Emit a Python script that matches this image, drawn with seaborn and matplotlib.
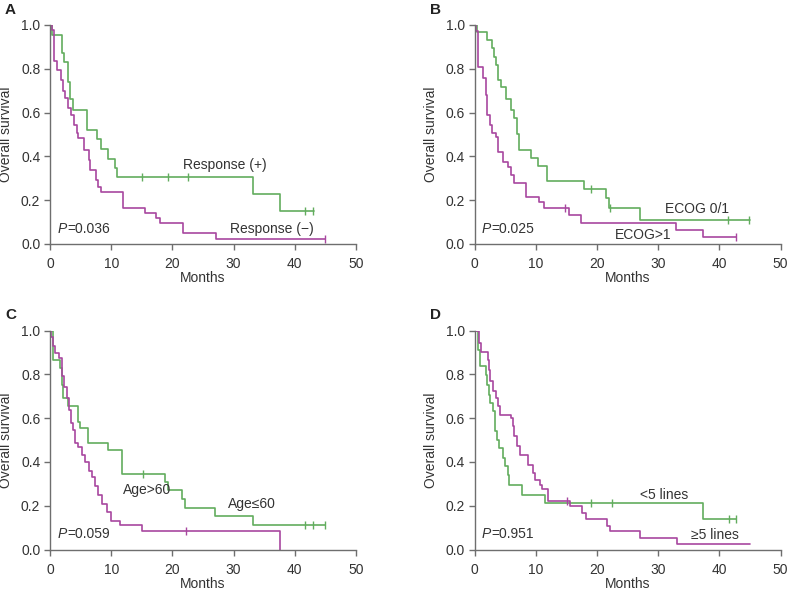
import numpy as np
import matplotlib
matplotlib.use("Agg")
import matplotlib.pyplot as plt
import seaborn as sns

# ---- data (months, survival) ----
# Panel A: response
a_pos_t = [0, 0.4, 1.9, 2.3, 3.0, 3.2, 3.8, 6.1, 7.6, 8.4, 9.5, 10.6, 10.9, 33.2, 37.5, 43.2]
a_pos_s = [1.0, 0.955, 0.87, 0.83, 0.74, 0.66, 0.61, 0.52, 0.48, 0.435, 0.39, 0.348, 0.305, 0.228, 0.152, 0.152]
a_pos_cens = [15.0, 19.2, 22.5, 41.7, 42.9]
a_neg_t = [0, 0.3, 0.7, 1.2, 1.85, 2.2, 2.45, 2.9, 3.5, 3.9, 4.4, 4.6, 5.6, 6.3, 6.6, 7.5, 7.9,
           8.4, 12.0, 15.5, 17.4, 18.0, 21.7, 27.1, 45.0]
a_neg_s = [1.0, 0.977, 0.836, 0.795, 0.75, 0.70, 0.668, 0.62, 0.59, 0.545, 0.505, 0.483, 0.43,
           0.384, 0.338, 0.292, 0.259, 0.239, 0.166, 0.14, 0.117, 0.094, 0.049, 0.023, 0.023]
a_neg_cens = [45.0]

# Panel B: ECOG
b_low_t = [0, 0.4, 2.1, 2.8, 3.2, 3.5, 3.9, 4.4, 5.1, 5.9, 6.5, 7.0, 7.3, 9.2, 10.3, 11.8,
           17.9, 21.5, 21.9, 27.0, 45.0]
b_low_s = [1.0, 0.967, 0.93, 0.894, 0.855, 0.817, 0.749, 0.715, 0.66, 0.612, 0.574, 0.50,
           0.429, 0.391, 0.358, 0.288, 0.25, 0.209, 0.165, 0.11, 0.11]
b_low_cens = [19.0, 22.1, 41.4, 44.8]
b_high_t = [0, 0.3, 0.6, 1.4, 1.8, 2.0, 2.1, 2.6, 2.9, 3.5, 3.9, 4.6, 5.5, 5.9, 6.5, 8.4,
            10.6, 11.4, 15.5, 17.4, 33.0, 37.3, 42.8]
b_high_s = [1.0, 0.974, 0.81, 0.757, 0.68, 0.63, 0.589, 0.543, 0.505, 0.49, 0.421, 0.376,
            0.353, 0.315, 0.277, 0.216, 0.193, 0.163, 0.132, 0.097, 0.064, 0.031, 0.031]
b_high_cens = [14.8, 42.8]

# Panel C: age
c_young_t = [0, 0.55, 1.6, 1.9, 2.1, 3.0, 4.5, 4.9, 6.2, 9.4, 11.8, 18.8, 19.3, 21.5, 22.1,
             26.9, 33.1, 45.0]
c_young_s = [1.0, 0.865, 0.828, 0.752, 0.69, 0.656, 0.584, 0.553, 0.485, 0.454, 0.345, 0.31,
             0.271, 0.23, 0.188, 0.152, 0.111, 0.111]
c_young_cens = [15.2, 41.6, 42.9, 45.0]
c_old_t = [0, 0.15, 0.5, 0.8, 1.5, 1.9, 2.3, 2.7, 3.1, 3.4, 3.7, 4.1, 4.6, 5.3, 5.8, 6.3, 6.8,
           7.3, 7.8, 8.5, 9.3, 10.0, 11.5, 15.0, 37.5]
c_old_s = [1.0, 0.972, 0.927, 0.897, 0.874, 0.79, 0.744, 0.69, 0.637, 0.576, 0.546, 0.485,
           0.469, 0.43, 0.40, 0.36, 0.33, 0.29, 0.25, 0.21, 0.17, 0.13, 0.11, 0.084, 0.0]
c_old_cens = [22.3]

# Panel D: lines of prior therapy
d_few_t = [0, 0.6, 0.9, 1.8, 2.1, 2.3, 2.6, 3.0, 3.4, 3.6, 4.0, 4.6, 5.0, 5.4, 5.7, 7.7, 11.6,
           37.4, 42.8]
d_few_s = [1.0, 0.912, 0.836, 0.798, 0.752, 0.707, 0.669, 0.631, 0.54, 0.50, 0.464, 0.418,
           0.38, 0.342, 0.296, 0.251, 0.213, 0.14, 0.14]
d_few_cens = [19.1, 22.4, 41.6, 42.8]
d_many_t = [0, 0.7, 1.0, 2.2, 2.3, 2.6, 3.1, 3.5, 3.9, 4.2, 5.9, 6.3, 6.5, 7.0, 7.5, 8.7, 9.5,
            9.9, 10.7, 11.1, 12.0, 15.6, 17.5, 18.2, 21.6, 22.1, 27.1, 33.1, 45.0]
d_many_s = [1.0, 0.943, 0.904, 0.866, 0.82, 0.768, 0.722, 0.692, 0.653, 0.616, 0.60, 0.562,
            0.517, 0.471, 0.433, 0.388, 0.35, 0.319, 0.296, 0.277, 0.22, 0.198, 0.167, 0.14,
            0.109, 0.083, 0.053, 0.026, 0.026]
d_many_cens = [15.1]

GREEN = "#62ad5e"
MAGENTA = "#a8479f"
AXIS_GRAY = "#6e6e6e"
TEXT = "#333333"
FS = 10


def surv_at(t, s, when):
    """Step-function lookup of survival at given censoring times."""
    idx = np.searchsorted(t, when, side="right") - 1
    return np.asarray(s)[idx]


def km_panel(fig, rect, letter, curves, labels, pval):
    ax = fig.add_axes(rect)
    for t, s, cens, color in curves:
        sns.lineplot(x=t, y=s, ax=ax, color=color, lw=1.2, drawstyle="steps-post",
                     estimator=None, sort=False)
        ax.plot(cens, surv_at(t, s, cens), ls="none", marker="|", ms=6, mew=1.0,
                color=color)
    for x, y, txt in labels:
        ax.text(x, y, txt, fontsize=FS, color=TEXT, ha="left", va="center")
    ax.text(1.2, 0.07, "P", fontsize=FS, style="italic", color=TEXT, va="center")
    ax.text(2.8, 0.07, "=" + pval, fontsize=FS, color=TEXT, va="center")

    ax.set_xlim(0, 50)
    ax.set_ylim(0, 1.0)
    ax.set_xticks(range(0, 51, 10))
    ax.set_yticks(np.arange(0, 1.01, 0.2))
    ax.set_yticklabels([f"{v:.1f}" for v in np.arange(0, 1.01, 0.2)])
    ax.set_xlabel("Months", fontsize=FS, color=TEXT)
    ax.set_ylabel("Overall survival", fontsize=FS, color=TEXT)
    ax.xaxis.set_label_coords(0.5, -0.125)
    ax.yaxis.set_label_coords(-0.12, 0.5)
    ax.tick_params(length=4.5, width=1, color=AXIS_GRAY, labelsize=FS, labelcolor=TEXT)
    ax.tick_params(axis="x", pad=5)
    ax.tick_params(axis="y", pad=2.5)
    sns.despine(ax=ax)
    for side in ("left", "bottom"):
        ax.spines[side].set_color(AXIS_GRAY)
        ax.spines[side].set_linewidth(1.0)
    ax.patch.set_alpha(0)
    fig.text(rect[0] - 0.057, rect[1] + rect[3] + 0.014, letter, fontsize=11,
             fontweight="bold", color="#222222", va="bottom")
    return ax


def main():
    sns.set_style("ticks")
    plt.rcParams["font.family"] = ["Liberation Sans", "DejaVu Sans"]
    fig = plt.figure(figsize=(7.88, 5.90), dpi=100)

    w, h = 306 / 788, 219 / 590
    top_b = 1 - 244 / 590
    bot_b = 1 - 549.5 / 590
    left_l = 50 / 788
    left_r = 474.5 / 788

    km_panel(fig, [left_l, top_b, w, h], "A",
             [(a_pos_t, a_pos_s, a_pos_cens, GREEN), (a_neg_t, a_neg_s, a_neg_cens, MAGENTA)],
             [(21.7, 0.36, "Response (+)"), (29.4, 0.07, "Response (\u2212)")], "0.036")
    km_panel(fig, [left_r, top_b, w, h], "B",
             [(b_low_t, b_low_s, b_low_cens, GREEN), (b_high_t, b_high_s, b_high_cens, MAGENTA)],
             [(31.2, 0.16, "ECOG 0/1"), (22.9, 0.04, "ECOG>1")], "0.025")
    km_panel(fig, [left_l, bot_b, w, h], "C",
             [(c_young_t, c_young_s, c_young_cens, GREEN), (c_old_t, c_old_s, c_old_cens, MAGENTA)],
             [(29.0, 0.21, "Age\u226460"), (12.0, 0.27, "Age>60")], "0.059")
    km_panel(fig, [left_r, bot_b, w, h], "D",
             [(d_few_t, d_few_s, d_few_cens, GREEN), (d_many_t, d_many_s, d_many_cens, MAGENTA)],
             [(27.1, 0.25, "<5 lines"), (35.4, 0.065, "\u22655 lines")], "0.951")

    fig.savefig("out.png", dpi=100)


if __name__ == "__main__":
    main()
